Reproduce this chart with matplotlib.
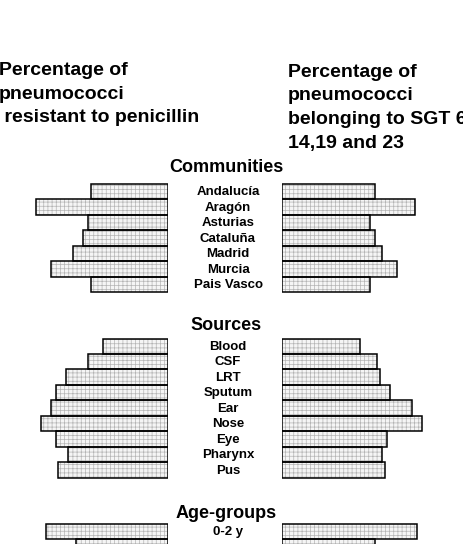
import matplotlib.pyplot as plt
import numpy as np

plt.rcParams['font.family'] = ['Liberation Sans', 'DejaVu Sans']
plt.rcParams['hatch.linewidth'] = 0.5

# Bar values (percent)
communities = ['Andalucía', 'Aragón', 'Asturias', 'Cataluña', 'Madrid', 'Murcia', 'Pais Vasco']
comm_resist = [31, 53, 32, 34, 38, 47, 31]
comm_sgt = [37, 53, 35, 37, 40, 46, 35]

sources = ['Blood', 'CSF', 'LRT', 'Sputum', 'Ear', 'Nose', 'Eye', 'Pharynx', 'Pus']
src_resist = [26, 32, 41, 45, 47, 51, 45, 40, 44]
src_sgt = [31, 38, 39, 43, 52, 56, 42, 40, 41]

age_groups = ['0-2 y', '']  # second group is cut off at the bottom of the figure
age_resist = [49, 37]
age_sgt = [54, 37]

sections = [('Communities', communities, comm_resist, comm_sgt),
            ('Sources', sources, src_resist, src_sgt),
            ('Age-groups', age_groups, age_resist, age_sgt)]

# layout (pixels)
W, H = 463, 544
PX = 2.5        # pixels per percent
ROW = 15.45     # pixels per bar
TOP = 184       # top of first bar
GAP = 3         # empty rows between sections
LEFT_END = 168
RIGHT_START = 282.3

fig = plt.figure(figsize=(W / 100, H / 100), dpi=100)
axl = fig.add_axes([0, 0, LEFT_END / W, 1])
axr = fig.add_axes([RIGHT_START / W, 0, 1 - RIGHT_START / W, 1])
axl.set_xlim(LEFT_END / PX, 0)
axr.set_xlim(0, (W - RIGHT_START) / PX)
for ax in (axl, axr):
    ax.set_ylim((H - TOP) / ROW, -TOP / ROW)
    ax.axis('off')

lab_tr = plt.matplotlib.transforms.blended_transform_factory(fig.transFigure, axl.transData)

title_off = [0.78, 0.55, 0.4]  # rows above section where the title baseline sits
start = 0
for (title, cats, left, right), toff in zip(sections, title_off):
    y = start + np.arange(len(cats)) + 0.5
    for ax, vals in ((axl, left), (axr, right)):
        # dotted grey fill, then the black outline on top
        ax.barh(y, vals, height=1, facecolor='#f5f5f5', edgecolor='#b4b4b4',
                hatch='++++', linewidth=0)
        ax.barh(y, vals, height=1, fill=False, edgecolor='black', linewidth=1.1)
    axl.text(226 / W, start - toff, title, transform=lab_tr, ha='center',
             va='baseline', fontsize=13, fontweight='bold')
    for yy, c in zip(y, cats):
        axl.text(228 / W, yy + 0.05, c, transform=lab_tr, ha='center', va='center',
                 fontsize=9.5, fontweight='bold')
    start += len(cats) + GAP

left_header = ['Percentage of', 'pneumococci', ' resistant to penicillin']
right_header = ['Percentage of', 'pneumococci', 'belonging to SGT 6', '14,19 and 23']
for i, line in enumerate(left_header):
    fig.text(-1 / W, 1 - (75 + 23.7 * i) / H, line, ha='left', va='baseline',
             fontsize=14, fontweight='bold')
for i, line in enumerate(right_header):
    fig.text(288 / W, 1 - (76.7 + 23.7 * i) / H, line, ha='left', va='baseline',
             fontsize=14, fontweight='bold')

fig.savefig('out.png', dpi=100)
